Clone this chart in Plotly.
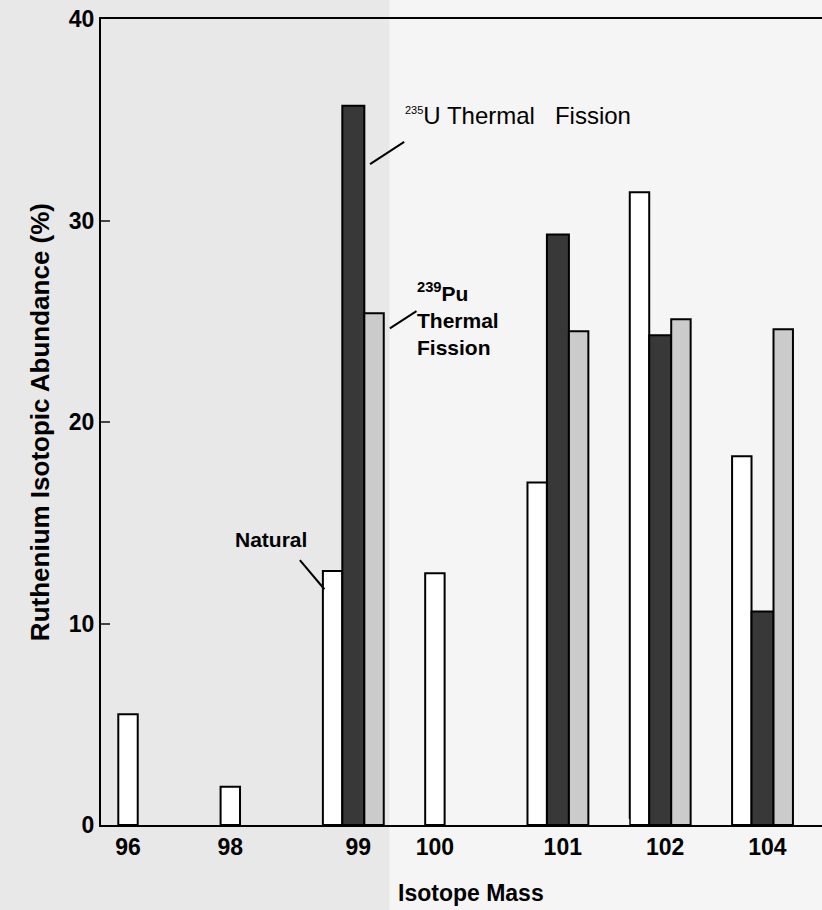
import plotly.graph_objects as go

# ---- data ----
isotope_labels = ["96", "98", "99", "100", "101", "102", "104"]
natural = [5.5, 1.9, 12.6, 12.5, 17.0, 31.4, 18.3]
u235_fission = [None, None, 35.7, None, 29.3, 24.3, 10.6]
pu239_fission = [None, None, 25.4, None, 24.5, 25.1, 24.6]

idx = list(range(len(isotope_labels)))

FONT = "Liberation Sans"
LINE = dict(color="black", width=2)

fig = go.Figure()
fig.add_trace(go.Bar(x=idx, y=natural, offset=-0.095, width=0.19,
                     marker=dict(color="white", line=LINE), name="Natural"))
fig.add_trace(go.Bar(x=idx, y=u235_fission, offset=0.095, width=0.215,
                     marker=dict(color="#383838", line=LINE), name="235U Thermal Fission"))
fig.add_trace(go.Bar(x=idx, y=pu239_fission, offset=0.31, width=0.19,
                     marker=dict(color="#cbcbcb", line=LINE), name="239Pu Thermal Fission"))

tickvals = [i + (0.25 if u235_fission[i] is not None else 0.0) for i in idx]

BG_RIGHT = "#f5f5f5"
BG_LEFT = "#e8e8e8"

fig.update_layout(
    width=822, height=910,
    margin=dict(l=101, r=0, t=19, b=85),
    paper_bgcolor=BG_RIGHT,
    plot_bgcolor="rgba(0,0,0,0)",
    barmode="overlay",
    showlegend=False,
    font=dict(family=FONT, color="black"),
    xaxis=dict(range=[-0.264, 6.784], tickvals=tickvals, ticktext=isotope_labels,
               showgrid=False, zeroline=False, showline=True, linecolor="black",
               linewidth=2, mirror=True, ticks="",
               tickfont=dict(size=23, weight="bold", family=FONT)),
    yaxis=dict(range=[0, 40], tickvals=[0, 10, 20, 30, 40],
               showgrid=False, zeroline=False, showline=True, linecolor="black",
               linewidth=2, ticks="inside", ticklen=9, tickwidth=2,
               tickfont=dict(size=23, weight="bold", family=FONT)),
)

# speckled (grayer) left part of the scan
fig.add_shape(type="rect", xref="paper", yref="paper", x0=-0.2, x1=0.40, y0=-0.2, y1=1.1,
              fillcolor=BG_LEFT, line_width=0, layer="below")

# axis break left of the 102 group
fig.add_shape(type="rect", xref="x", yref="y", x0=4.81, x1=4.90, y0=-0.3, y1=0.3,
              fillcolor=BG_RIGHT, line_width=0, layer="above")

# titles
fig.add_annotation(text="Ruthenium Isotopic Abundance (%)", xref="paper", yref="paper",
                   x=-0.108, y=0.5, textangle=-90, showarrow=False,
                   font=dict(size=26, weight="bold", family=FONT))
fig.add_annotation(text="Isotope Mass", xref="paper", yref="paper",
                   x=0.513, y=-0.084, showarrow=False, yanchor="middle",
                   font=dict(size=23, weight="bold", family=FONT))

# labels with leader lines
fig.add_annotation(text="Natural", x=1.40, y=14.15, showarrow=False,
                   font=dict(size=21, weight="bold", family=FONT))
fig.add_shape(type="line", x0=1.68, y0=13.15, x1=1.92, y1=11.7, line=LINE)

fig.add_annotation(text="<sup><span style='font-size:11px'>235</span></sup>U Thermal\u00a0\u00a0\u00a0Fission",
                   x=2.69, y=35.2, xanchor="left", showarrow=False,
                   font=dict(size=24, family=FONT))
fig.add_shape(type="line", x0=2.366, y0=32.8, x1=2.70, y1=33.9, line=LINE)

fig.add_annotation(text="<sup>239</sup>Pu<br>Thermal<br>Fission",
                   x=2.81, y=25.1, xanchor="left", align="left", showarrow=False,
                   font=dict(size=21, weight="bold", family=FONT))
fig.add_shape(type="line", x0=2.56, y0=24.65, x1=2.82, y1=25.5, line=LINE)

fig.write_html("out.html", config={"displayModeBar": False},
               post_script="document.body.style.margin='0';")
